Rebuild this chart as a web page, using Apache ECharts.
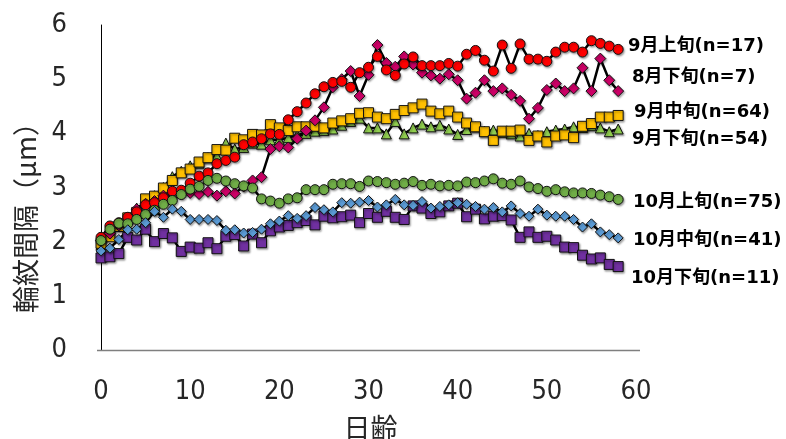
<!DOCTYPE html>
<html>
<head>
<meta charset="utf-8">
<script src="https://cdn.jsdelivr.net/npm/echarts@6/dist/echarts.min.js"></script>
<style>
  html, body { margin: 0; padding: 0; background: #fff; }
  #chart { width: 786px; height: 439px; }
</style>
</head>
<body>
<div id="chart"></div>
<script>
// Age in days (x values)
const days = [0,1,2,3,4,5,6,7,8,9,10,11,12,13,14,15,16,17,18,19,20,21,22,23,24,25,26,27,28,29,
  30,31,32,33,34,35,36,37,38,39,40,41,42,43,44,45,46,47,48,49,50,51,52,53,54,55,56,57,58];

// Mean increment width (μm) per hatch group
const aug3 = [2.02,2.15,2.30,2.40,2.60,2.70,2.75,2.85,2.91,2.90, 2.90,2.88,2.92,2.85,2.93,2.89,3.02,3.13,3.19,3.71,
  3.76,3.74,3.90,4.05,4.24,4.48,4.85,5.00,5.15,4.69, 5.08,5.63,5.30,5.23,5.42,5.27,5.12,5.07,5.01,5.09,
  4.98,4.64,4.75,4.98,4.78,4.83,4.71,4.60,4.27,4.47, 4.80,4.92,4.78,4.83,5.21,4.78,5.38,4.98,4.78];
const sep1 = [2.08,2.29,2.35,2.45,2.55,2.68,2.72,2.81,2.93,2.95, 3.08,3.21,3.27,3.44,3.50,3.56,3.79,3.84,3.90,3.99,
  3.98,4.25,4.40,4.56,4.73,4.86,4.94,4.96,4.85,5.12, 5.22,5.42,5.17,5.07,5.28,5.41,5.25,5.25,5.25,5.29,
  5.24,5.46,5.53,5.35,5.15,5.63,5.20,5.65,5.37,5.37, 5.33,5.50,5.59,5.59,5.50,5.71,5.66,5.61,5.55];
const sep2 = [1.97,2.09,2.28,2.44,2.54,2.79,2.84,2.99,3.13,3.27, 3.34,3.47,3.55,3.70,3.69,3.91,3.88,3.98,3.97,4.16,
  4.10,4.05,4.12,4.12,4.13,4.10,4.19,4.23,4.27,4.37, 4.38,4.30,4.27,4.35,4.42,4.47,4.54,4.41,4.36,4.41,
  4.30,4.19,4.12,4.03,3.87,4.04,4.04,4.06,3.87,3.95, 3.84,3.95,3.97,3.92,4.13,4.18,4.30,4.30,4.33];
const sep3 = [1.95,2.15,2.30,2.45,2.62,2.72,2.85,3.00,3.20,3.30, 3.40,3.45,3.55,3.58,3.82,3.71,3.74,3.82,3.80,3.88,
  3.88,3.92,3.97,4.00,4.04,4.05,4.08,4.15,4.22,4.28, 4.10,4.10,3.99,4.22,3.99,4.10,4.17,4.12,4.15,4.08,
  3.98,4.07,4.12,4.04,4.06,4.02,3.99,3.95,4.00,3.96, 4.03,4.06,4.08,4.12,4.11,4.14,4.10,4.03,4.08];
const oct1 = [2.02,2.23,2.34,2.33,2.41,2.50,2.58,2.69,2.76,2.87, 2.97,3.02,3.13,3.17,3.12,3.07,3.03,2.99,2.79,2.75,
  2.71,2.79,2.81,2.96,2.96,2.96,3.06,3.07,3.07,3.02, 3.12,3.11,3.09,3.06,3.08,3.11,3.04,3.06,3.03,3.04,
  3.03,3.10,3.09,3.12,3.16,3.08,3.06,3.12,3.01,2.98, 2.93,2.96,2.92,2.90,2.90,2.89,2.86,2.83,2.78];
const oct2 = [1.83,1.88,2.04,2.22,2.23,2.35,2.56,2.45,2.60,2.56, 2.41,2.41,2.41,2.39,2.21,2.22,2.16,2.17,2.23,2.33,
  2.38,2.48,2.43,2.48,2.63,2.59,2.55,2.72,2.71,2.73, 2.76,2.64,2.68,2.78,2.68,2.67,2.74,2.62,2.65,2.68,
  2.72,2.69,2.65,2.60,2.63,2.55,2.66,2.52,2.47,2.60, 2.49,2.47,2.47,2.41,2.27,2.33,2.18,2.13,2.07];
const oct3 = [1.70,1.72,1.78,2.08,2.03,2.23,2.00,2.15,2.07,1.82, 1.90,1.88,1.98,1.87,2.10,2.13,1.92,2.14,1.98,2.20,
  2.27,2.30,2.35,2.39,2.31,2.47,2.44,2.46,2.49,2.35, 2.52,2.45,2.56,2.45,2.41,2.66,2.62,2.52,2.55,2.66,
  2.71,2.46,2.60,2.42,2.47,2.48,2.40,2.08,2.18,2.08, 2.10,2.03,1.90,1.89,1.75,1.68,1.70,1.58,1.54];

// Group names shown beside the lines
const groupNames = ['9月上旬(n=17)', '8月下旬(n=7)', '9月中旬(n=64)', '9月下旬(n=54)',
  '10月上旬(n=75)', '10月中旬(n=41)', '10月下旬(n=11)'];

// Axis ticks
const xTicks = { min: 0, max: 60, step: 10 };
const yTicks = { min: 0, max: 6, step: 1 };

const CJK = '"Noto Sans CJK JP"';
const NUM = '"DejaVu Sans Condensed","DejaVu Sans",' + CJK + ',sans-serif';
const AXIS_TEXT = '#262626';

function lineSeries(name, values, symbol, size, fill) {
  return {
    name: name,
    type: 'line',
    data: days.map((d, i) => [d, values[i]]),
    symbol: symbol,
    symbolSize: size,
    showAllSymbol: true,
    lineStyle: { color: '#000', width: 2.5 },
    itemStyle: {
      color: fill, borderColor: '#111', borderWidth: 1,
      shadowColor: 'rgba(0,0,0,0.35)', shadowBlur: 2, shadowOffsetX: 1, shadowOffsetY: 1.5
    },
    emphasis: { disabled: true }
  };
}

// Label placement beside the right end of the plot
const labelSpots = [
  [628, 46], [632, 77], [634, 112], [632, 139], [633, 202], [633, 240], [631, 278]
];

const chart = echarts.init(document.getElementById('chart'), null, { renderer: 'canvas' });
chart.setOption({
  animation: false,
  backgroundColor: '#fff',
  grid: { left: 101, right: 150, top: 25, bottom: 89, containLabel: false, outerBoundsMode: 'none' },
  xAxis: {
    type: 'value', min: xTicks.min, max: xTicks.max, interval: xTicks.step,
    axisLine: { show: false },
    axisTick: { show: false },
    splitLine: { show: false },
    axisLabel: { fontSize: 27, color: AXIS_TEXT, fontFamily: NUM, margin: 28 }
  },
  yAxis: {
    type: 'value', min: yTicks.min, max: yTicks.max, interval: yTicks.step,
    offset: 4,
    axisLine: { show: true, lineStyle: { color: '#000', width: 1 } },
    axisTick: { show: false },
    splitLine: { show: false },
    axisLabel: { fontSize: 27, color: AXIS_TEXT, fontFamily: NUM, margin: 30 }
  },
  series: [
    lineSeries(groupNames[3], sep3, 'triangle', 10, '#92D050'),
    lineSeries(groupNames[2], sep2, 'rect', 10, '#FFC000'),
    lineSeries(groupNames[1], aug3, 'diamond', 11, '#CC0066'),
    lineSeries(groupNames[0], sep1, 'circle', 10, '#FF0000'),
    lineSeries(groupNames[4], oct1, 'circle', 10, '#70AD47'),
    lineSeries(groupNames[6], oct3, 'rect', 10, '#7030A0'),
    lineSeries(groupNames[5], oct2, 'diamond', 10, '#5B9BD5')
  ]
});

// Baseline spanning the plot frame, plus axis titles and group labels
const p0 = chart.convertToPixel({ gridIndex: 0 }, [xTicks.min, yTicks.min]);
const p1 = chart.convertToPixel({ gridIndex: 0 }, [xTicks.max, yTicks.min]);
chart.setOption({
  graphic: [
    {
      type: 'line', z: 1,
      shape: { x1: p0[0] - 4, y1: Math.round(p0[1]) + 0.5, x2: p1[0] + 4, y2: Math.round(p0[1]) + 0.5 },
      style: { stroke: '#7f7f7f', lineWidth: 1.3 }
    },
    {
      type: 'text', x: (p0[0] + p1[0]) / 2 + 2, y: 428,
      style: {
        text: '日齢', fontSize: 27, fontFamily: CJK, fill: AXIS_TEXT,
        align: 'center', verticalAlign: 'middle'
      }
    },
    {
      type: 'text', x: 26, y: 211, rotation: Math.PI / 2,
      style: {
        text: '輪紋間隔（μm）', fontSize: 27, fontFamily: CJK, fill: AXIS_TEXT,
        align: 'center', verticalAlign: 'middle'
      }
    }
  ].concat(groupNames.map((t, i) => ({
    type: 'text', x: labelSpots[i][0], y: labelSpots[i][1],
    style: {
      text: t, fontSize: 18, fontWeight: 'bold', fill: '#000',
      fontFamily: '"DejaVu Sans",' + CJK + ',sans-serif',
      align: 'left', verticalAlign: 'middle'
    }
  })))
});
</script>
</body>
</html>
